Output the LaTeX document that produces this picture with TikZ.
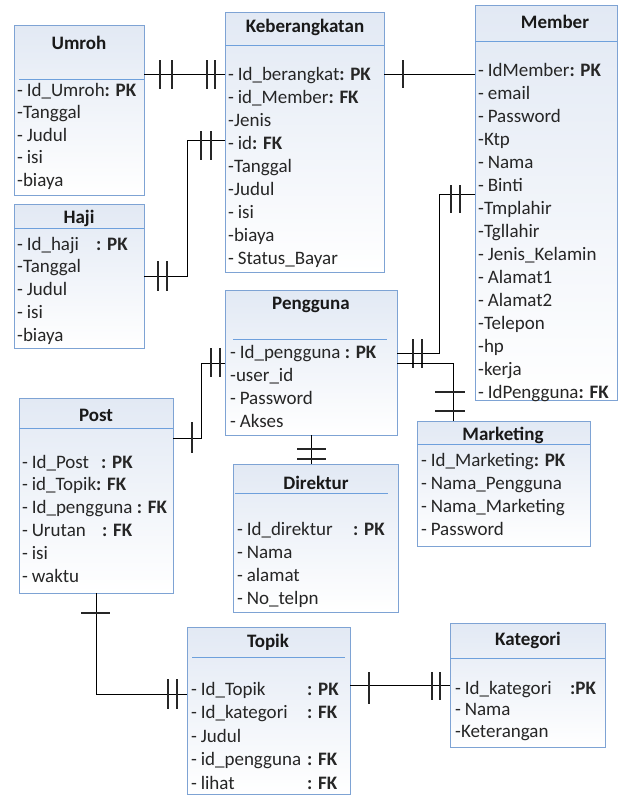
\documentclass[tikz,border=0pt]{standalone}
\usepackage{fontspec}
\setmainfont{Carlito}
\definecolor{bordr}{RGB}{126,163,212}
\definecolor{topc}{RGB}{226,233,244}
\definecolor{sepc}{RGB}{110,160,220}
\tikzset{
 tbox/.style={draw=bordr, line width=1pt, top color=topc, bottom color=white, anchor=north west, inner sep=0pt, outer sep=0pt},
 hsep/.style={draw=sepc, line width=1pt},
 ttl/.style={font=\bfseries\fontsize{19}{22}\selectfont, inner sep=0pt, text=black!90},
 rowtxt/.style={font=\fontsize{19}{22}\selectfont, anchor=base west, inner sep=0pt, text=black!85},
 conn/.style={draw=black, line width=1pt},
 tickmark/.style={draw=black!85, line width=1.5pt},
}
\newcommand\tabrows[5]{\foreach \t [count=\i] in {#5} {\node[rowtxt] (#1-\i) at (#2,{-(#3)-(\i-1)*#4}) {\t};}}
\newcommand\rd{-\hspace{0.2em}}
\begin{document}
\begin{tikzpicture}[x=1pt,y=1pt]
\useasboundingbox (0,0) rectangle (619,-796);
\fill[white] (0,0) rectangle (619,-796);
% boxes
\node[tbox, minimum width=130pt, minimum height=170pt] (umroh) at (14,-25) {};
\node[tbox, minimum width=159pt, minimum height=260pt] (kb) at (225,-12) {};
\node[tbox, minimum width=142pt, minimum height=395pt] (member) at (475,-5) {};
\node[tbox, minimum width=130pt, minimum height=144pt] (haji) at (14,-204) {};
\node[tbox, minimum width=172pt, minimum height=145pt] (png) at (225,-290) {};
\node[tbox, minimum width=154pt, minimum height=195pt] (post) at (19,-398) {};
\node[tbox, minimum width=165pt, minimum height=148pt] (dir) at (233,-464) {};
\node[tbox, minimum width=173pt, minimum height=125pt] (mkt) at (417,-421) {};
\node[tbox, minimum width=163pt, minimum height=167pt] (topik) at (187,-627) {};
\node[tbox, minimum width=155pt, minimum height=124pt] (kat) at (450,-623) {};
% header separators
\draw[hsep] (19,-79) -- (144,-79);
\draw[hsep] (225,-45) -- (384,-45);
\draw[hsep] (475,-41) -- (617,-41);
\draw[hsep] (14,-228) -- (144,-228);
\draw[hsep] (233,-339) -- (387,-339);
\draw[hsep] (19,-428) -- (173,-428);
\draw[hsep] (235,-493) -- (388,-493);
\draw[hsep] (417,-444) -- (590,-444);
\draw[hsep] (192,-657) -- (345,-657);
\draw[hsep] (450,-658) -- (605,-658);
% titles
\node[ttl] (umroh-t) at (79,-43) {Umroh};
\node[ttl] (kb-t) at (305,-27) {Keberangkatan};
\node[ttl] (member-t) at (555,-22) {Member};
\node[ttl] (haji-t) at (79,-218) {Haji};
\node[ttl] (png-t) at (311,-305) {Pengguna};
\node[ttl] (post-t) at (96,-415) {Post};
\node[ttl] (dir-t) at (316,-483) {Direktur};
\node[ttl] (mkt-t) at (503,-435) {Marketing};
\node[ttl] (topik-t) at (268,-642) {Topik};
\node[ttl] (kat-t) at (528,-640) {Kategori};
% rows
\tabrows{umroh}{17}{96}{22.5}{{\rd Id\_Umroh\textbf{: PK}},{-Tanggal},{\rd Judul},{\rd isi},{-biaya}}
\tabrows{kb}{228}{80}{23.1}{{\rd Id\_berangkat\textbf{: PK}},{\rd id\_Member\textbf{: FK}},{-Jenis},{\rd id\textbf{: FK}},{-Tanggal},{-Judul},{\rd isi},{-biaya},{\rd Status\_Bayar}}
\tabrows{member}{478}{76}{23}{{\rd IdMember\textbf{: PK}},{\rd email},{\rd Password},{-Ktp},{\rd Nama},{\rd Binti},{-Tmplahir},{-Tgllahir},{\rd Jenis\_Kelamin},{\rd Alamat1},{\rd Alamat2},{-Telepon},{-hp},{-kerja},{\rd IdPengguna\textbf{: FK}}}
\tabrows{haji}{17}{250}{22.75}{{\makebox[79pt][l]{\rd Id\_haji}\textbf{: PK}},{-Tanggal},{\rd Judul},{\rd isi},{-biaya}}
\tabrows{png}{230}{358}{23}{{\rd Id\_pengguna \textbf{: PK}},{-user\_id},{\rd Password},{\rd Akses}}
\tabrows{post}{22}{468}{22.8}{{\makebox[79pt][l]{\rd Id\_Post}\textbf{: PK}},{\rd id\_Topik\textbf{: FK}},{\rd Id\_pengguna \textbf{: FK}},{\makebox[80pt][l]{\rd Urutan}\textbf{: FK}},{\rd isi},{\rd waktu}}
\tabrows{dir}{237}{535}{23}{{\makebox[116pt][l]{\rd Id\_direktur}\textbf{: PK}},{\rd Nama},{\rd alamat},{\rd No\_telpn}}
\tabrows{mkt}{421}{466}{23.3}{{\rd Id\_Marketing\textbf{: PK}},{\rd Nama\_Pengguna},{\rd Nama\_Marketing},{\rd Password}}
\tabrows{topik}{191}{695}{23.5}{{\makebox[116pt][l]{\rd Id\_Topik}\textbf{: PK}},{\makebox[116pt][l]{\rd Id\_kategori}\textbf{: FK}},{\rd Judul},{\makebox[116pt][l]{\rd id\_pengguna}\textbf{: FK}},{\makebox[116pt][l]{\rd lihat}\textbf{: FK}}}
\tabrows{kat}{455}{694}{21.5}{{\makebox[115pt][l]{\rd Id\_kategori}\textbf{:PK}},{\rd Nama},{-Keterangan}}
% connectors
\draw[conn] (umroh.east |- 0,-74) -- (kb.west |- 0,-74);
\draw[tickmark] (160,-60) -- (160,-89) (172,-60) -- (172,-89) (207,-60) -- (207,-89) (215,-60) -- (215,-89);
\draw[conn] (kb.west |- 0,-140) -| (187,-276) -- (haji.east |- 0,-276);
\draw[tickmark] (201,-131) -- (201,-160) (211,-131) -- (211,-160) (158,-261) -- (158,-291) (167,-261) -- (167,-291);
\draw[conn] (kb.east |- 0,-74) -- (member.west |- 0,-74);
\draw[tickmark] (403,-60) -- (403,-88);
\draw[conn] (member.west |- 0,-194) -| (439,-353) -- (png.east |- 0,-353);
\draw[tickmark] (451,-185) -- (451,-213) (460,-185) -- (460,-213) (413,-339) -- (413,-368) (422,-339) -- (422,-368);
\draw[conn] (png.east |- 0,-363) -| (mkt.north -| 453,0);
\draw[tickmark] (435,-392) -- (465,-392) (435,-411) -- (465,-411);
\draw[conn] (png.west |- 0,-363) -| (201,-438) -- (post.east |- 0,-438);
\draw[tickmark] (211,-348) -- (211,-377) (220,-348) -- (220,-377) (192,-422) -- (192,-453);
\draw[conn] (png.south -| 311,0) -- (dir.north -| 311,0);
\draw[tickmark] (297,-449) -- (326,-449) (297,-459) -- (326,-459);
\draw[conn] (post.south -| 96,0) |- (topik.west |- 0,-694);
\draw[tickmark] (81,-613) -- (110,-613) (168,-679) -- (168,-709) (177,-679) -- (177,-709);
\draw[conn] (topik.east |- 0,-685) -- (kat.west |- 0,-685);
\draw[tickmark] (369,-672) -- (369,-704) (432,-672) -- (432,-700) (440,-672) -- (440,-700);
\end{tikzpicture}
\end{document}
